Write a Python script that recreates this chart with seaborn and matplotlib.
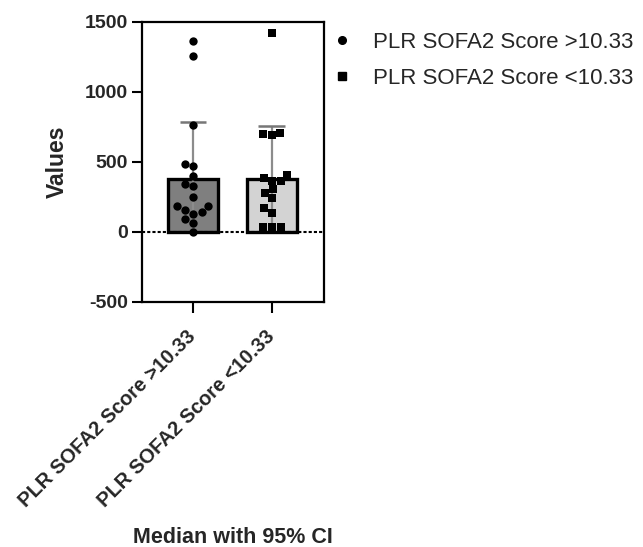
import numpy as np
import pandas as pd
import seaborn as sns
import matplotlib.pyplot as plt
from matplotlib.lines import Line2D

# data
groups = ['PLR SOFA2 Score >10.33', 'PLR SOFA2 Score <10.33']
high_vals = [1363, 1255, 760, 471, 488, 400, 328, 345, 250, 186, 186,
             157, 143, 131, 95, 66, 2]
low_vals = [1423, 702, 709, 693, 364, 364, 388, 407, 281, 305, 241,
            169, 138, 36, 36, 36]
medians = [378, 380]
ci_low = [95, 40]
ci_high = [783, 755]
bar_colors = ['#7f7f7f', '#d3d3d3']

sns.set_style('white')
plt.rcParams['font.family'] = ['Liberation Sans', 'DejaVu Sans']

fig = plt.figure(figsize=(6.43, 5.47), dpi=100)
ax = fig.add_axes([0.2204, 0.4479, 0.2834, 0.5124])

bars = pd.DataFrame({'group': groups, 'median': medians})
sns.barplot(data=bars, x='group', y='median', hue='group', order=groups,
            palette=bar_colors, width=0.63, edgecolor='black', linewidth=2.4,
            legend=False, errorbar=None, ax=ax, zorder=1)

# error bars (95% CI), cap on top only
x_pos = np.arange(len(groups))
ax.vlines(x_pos, ci_low, ci_high, color='#8c8c8c', lw=1.6, zorder=2)
ax.hlines(ci_high, x_pos - 0.17, x_pos + 0.17, color='#777777', lw=1.8, zorder=2)

pts = pd.concat([
    pd.DataFrame({'group': groups[0], 'val': high_vals}),
    pd.DataFrame({'group': groups[1], 'val': low_vals}),
])
sns.swarmplot(data=pts[pts['group'] == groups[0]], x='group', y='val',
              order=groups, color='black', marker='o', size=6, ax=ax, zorder=3)
sns.swarmplot(data=pts[pts['group'] == groups[1]], x='group', y='val',
              order=groups, color='black', marker='s', size=6, ax=ax, zorder=3)

ax.axhline(0, color='black', lw=1.5, ls=(0, (1.5, 1)), zorder=4)

ax.set_xlim(-0.65, 1.66)
ax.set_ylim(-500, 1500)
ax.set_yticks([-500, 0, 500, 1000, 1500])
ax.set_yticklabels(['-500', '0', '500', '1000', '1500'],
                   fontsize=14, fontweight='bold')
ax.set_xticks(x_pos)
ax.set_xticklabels(groups, rotation=45, ha='right', va='center',
                   rotation_mode='anchor', fontsize=14.5, fontweight='bold')
ax.tick_params(axis='y', direction='out', length=7, width=1.5,
               color='black', left=True, pad=3)
ax.tick_params(axis='x', direction='out', length=8, width=1.5,
               color='black', bottom=True, pad=15)
for s in ax.spines.values():
    s.set_color('black')
    s.set_linewidth(1.6)

ax.set_ylabel('Values', fontsize=16.5, fontweight='bold', labelpad=11)
ax.set_xlabel('Median with 95% CI', fontsize=15.5, fontweight='bold')
ax.xaxis.label.set_va('center')
ax.xaxis.set_label_coords(0.5, -0.842)

handles = [
    Line2D([], [], ls='', marker='o', color='black', markersize=5.5),
    Line2D([], [], ls='', marker='s', color='black', markersize=5.5),
]
ax.legend(handles, groups, loc='upper left', bbox_to_anchor=(0.929, 1.035),
          frameon=False, fontsize=16, handlelength=1.0, handletextpad=0.9,
          labelspacing=0.66)

fig.savefig('out.png', dpi=100)
